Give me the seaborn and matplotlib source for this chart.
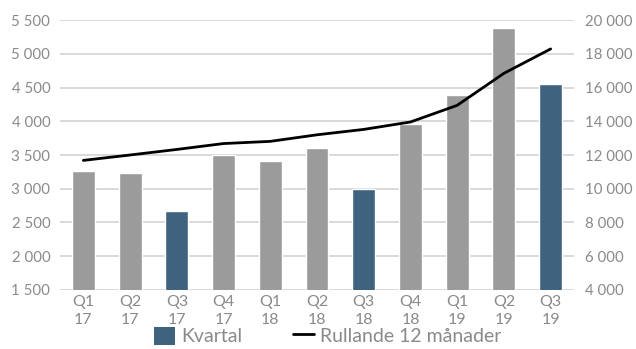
import matplotlib
matplotlib.use("Agg")
import matplotlib.pyplot as plt
from matplotlib.patches import Patch
from matplotlib.lines import Line2D
import seaborn as sns
import numpy as np
import pandas as pd

quarters = ["Q1\n17", "Q2\n17", "Q3\n17", "Q4\n17", "Q1\n18", "Q2\n18",
            "Q3\n18", "Q4\n18", "Q1\n19", "Q2\n19", "Q3\n19"]
kvartal = [3260, 3230, 2670, 3500, 3410, 3600, 2995, 3960, 4390, 5385, 4555]
rullande = [11680, 12000, 12330, 12680, 12810, 13200, 13520, 13960, 14950, 16850, 18300]
highlight = [False, False, True, False, False, False, True, False, False, False, True]
left_ticks = [1500, 2000, 2500, 3000, 3500, 4000, 4500, 5000, 5500]
right_ticks = [4000, 6000, 8000, 10000, 12000, 14000, 16000, 18000, 20000]

GREY = "#9b9b9b"
BLUE = "#3f637f"
TXT = "#8a8a8a"

sns.set_theme(style="white")
plt.rcParams["font.family"] = ["Lato", "DejaVu Sans"]

def fmt(v):
    return f"{v:,}".replace(",", " ")

df = pd.DataFrame({"q": quarters, "v": kvartal})
palette = {q: (BLUE if h else GREY) for q, h in zip(quarters, highlight)}

fig = plt.figure(figsize=(6.36, 3.49), dpi=100)
ax = fig.add_axes([60/636, 1 - 289.7/349, (574-60)/636, (289.7-20.3)/349])
sns.barplot(data=df, x="q", y="v", hue="q", palette=palette, legend=False,
            width=0.49, ax=ax, saturation=1, zorder=2)
ax.set_ylim(left_ticks[0], left_ticks[-1])
ax.set_yticks(left_ticks)
ax.set_yticklabels([fmt(t) for t in left_ticks])
ax.set_xlim(-0.5, len(quarters) - 0.5)
ax.set_xlabel("")
ax.set_ylabel("")
for y in left_ticks:
    ax.axhline(y, color="#cfcfcf", lw=1.1, zorder=0)
for s in ax.spines.values():
    s.set_visible(False)
ax.tick_params(axis="y", length=0, colors=TXT, labelsize=10.8, pad=7)
ax.tick_params(axis="x", length=0, colors=TXT, labelsize=11.5, pad=4)
for lab in ax.get_xticklabels():
    lab.set_linespacing(1.3)

ax2 = ax.twinx()
sns.lineplot(x=np.arange(len(rullande)), y=rullande, color="black", lw=2,
             ax=ax2, zorder=3)
ax2.set_ylim(right_ticks[0], right_ticks[-1])
ax2.set_yticks(right_ticks)
ax2.set_yticklabels([fmt(t) for t in right_ticks])
for s in ax2.spines.values():
    s.set_visible(False)
ax2.tick_params(axis="y", length=0, colors=TXT, labelsize=10.8, pad=8)
ax2.grid(False)

handles = [Patch(facecolor=BLUE, edgecolor="none", label="Kvartal"),
           Line2D([0], [0], color="black", lw=2, label="Rullande 12 månader")]
leg = fig.legend(handles=handles, loc="lower center", bbox_to_anchor=(0.515, -0.04),
                 ncol=2, frameon=False, fontsize=14, handlelength=1.1,
                 handleheight=1.1, handletextpad=0.3, columnspacing=2.6)
for t in leg.get_texts():
    t.set_color(TXT)

fig.savefig("out.png", dpi=100)
